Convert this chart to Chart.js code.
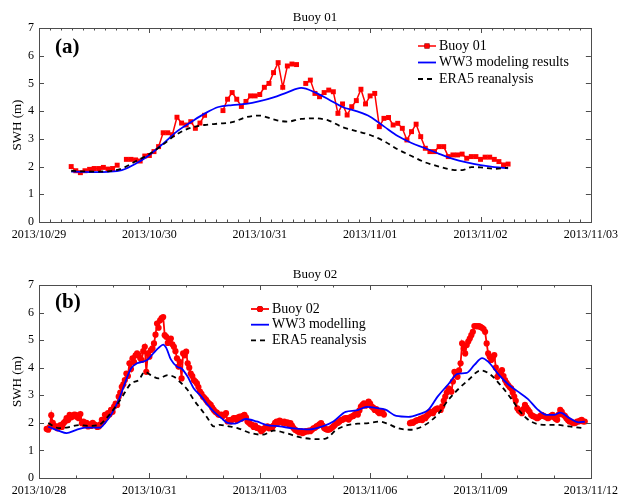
<!DOCTYPE html>
<html>
<head>
<meta charset="utf-8">
<script src="https://cdn.jsdelivr.net/npm/chart.js@4.4.0/dist/chart.umd.min.js"></script>
<style>
  body { margin: 0; background: #fff; }
  canvas { display: block; }
</style>
</head>
<body>
<canvas id="chartA" width="624" height="248"></canvas>
<canvas id="chartB" width="624" height="249"></canvas>
<script>
// ---- Panel (a): hours since 2013/10/29 00:00 ----
const buoy01Start = 7; // first hourly sample, null = missing
const buoy01Swh = [2.0, 1.85, 1.78, 1.85, 1.9, 1.93, 1.93, 1.97, 1.91, 1.93, 2.05, null,
  2.26, 2.26, 2.24, 2.2, 2.38, 2.4, 2.54, 2.72, 3.22, 3.22, 3.15, 3.78, 3.57, 3.5, 3.62,
  3.38, 3.57, 3.85, null, null, null, 4.02, 4.43, 4.67, 4.43, 4.17, 4.35, 4.55, 4.55, 4.6,
  4.86, 5.0, 5.39, 5.75, 4.86, 5.63, 5.7, 5.68, null, 5.0, 5.12, 4.64, 4.52, 4.67, 4.76,
  4.7, 3.92, 4.26, 3.86, 4.16, 4.38, 4.79, 4.26, 4.55, 4.64, 3.44, 3.74, 3.77, 3.5, 3.56,
  3.38, 2.96, 3.26, 3.53, 3.08, 2.66, 2.54, 2.54, 2.72, 2.72, 2.36, 2.42, 2.42, 2.45, 2.3,
  2.36, 2.36, 2.26, 2.34, 2.34, 2.26, 2.18, 2.06, 2.09];
const ww3aHours = [7, 9, 12, 15, 18, 21, 24, 27, 30, 33, 36, 39, 42, 45, 48, 51, 54, 57,
  60, 63, 66, 69, 72, 75, 78, 81, 84, 87, 90, 93, 96, 99, 102];
const ww3aSwh = [1.82, 1.81, 1.8, 1.81, 1.87, 2.1, 2.42, 2.83, 3.27, 3.6, 3.91, 4.15, 4.22,
  4.26, 4.36, 4.5, 4.68, 4.84, 4.68, 4.42, 4.15, 4.0, 3.8, 3.45, 3.1, 2.85, 2.66, 2.46,
  2.28, 2.15, 2.05, 1.98, 1.94];
const era5aHours = [7, 9, 12, 15, 18, 21, 24, 27, 30, 33, 36, 39, 42, 45, 48, 51, 54, 57,
  60, 63, 66, 69, 72, 75, 78, 81, 84, 87, 90, 92, 94, 96, 99, 102];
const era5aSwh = [1.85, 1.83, 1.82, 1.83, 1.93, 2.19, 2.45, 2.8, 3.17, 3.4, 3.5, 3.55, 3.6,
  3.78, 3.84, 3.7, 3.62, 3.72, 3.74, 3.66, 3.42, 3.28, 3.14, 2.92, 2.62, 2.38, 2.15, 2.0,
  1.88, 1.87, 1.98, 1.97, 1.92, 1.96];

// ---- Panel (b): hours since 2013/10/28 00:00 ----
const buoy02Start = 5;
const buoy02Swh = [1.78, 1.75, 1.85, 2.28, 2.0, 1.9, 1.85, 1.8, 1.88, 1.92, 1.85, 1.99, 2.05,
  2.17, 2.1, 2.29, 2.2, 2.23, 2.3, 2.29, 2.2, 2.17, 2.32, 1.99, 2.05, 1.92, 2.0, 1.87, 1.95,
  1.89, 2.0, 1.95, 1.92, 1.85, 1.87, 1.95, 2.11, 2.05, 2.29, 2.2, 2.35, 2.3, 2.47, 2.4, 2.59,
  2.7, 2.65, 2.95, 3.1, 3.31, 3.4, 3.55, 3.79, 3.7, 4.16, 3.95, 4.34, 4.2, 4.45, 4.52, 4.46,
  4.35, 4.28, 4.6, 4.76, 3.85, 4.52, 4.4, 4.64, 4.7, 4.88, 5.2, 5.6, 5.45, 5.72, 5.8, 5.84,
  5.18, 5.12, 4.9, 4.94, 5.06, 4.85, 4.76, 4.6, 4.34, 4.04, 4.2, 3.61, 4.52, 4.45, 4.58,
  4.16, 4.0, 3.79, 3.7, 3.55, 3.5, 3.43, 3.3, 3.13, 3.05, 2.95, 2.9, 2.83, 2.75, 2.7, 2.65,
  2.55, 2.47, 2.4, 2.37, 2.3, 2.29, 2.3, 2.25, 2.29, 2.35, 2.05, 2.1, 2.05, 2.12, 2.17,
  2.17, 2.1, 2.2, 2.23, 2.15, 2.25, 2.29, 2.2, 2.05, 2.0, 1.95, 1.93, 1.85, 1.9, 1.82, 1.81,
  1.78, 1.7, 1.75, 1.8, 1.85, 1.87, 1.8, 1.85, 1.81, 1.9, 2.0, 2.05, 2.0, 2.08, 2.05, 2.0,
  2.05, 1.99, 2.02, 1.95, 1.99, 1.9, 1.81, 1.75, 1.72, 1.69, 1.65, 1.7, 1.63, 1.66, 1.7,
  1.69, 1.72, 1.7, 1.75, 1.8, 1.82, 1.87, 1.9, 1.95, 1.99, 1.9, 1.81, 1.78, 1.75, 1.75,
  1.78, 1.82, 1.87, 1.92, 1.99, 2.0, 2.05, 2.1, 2.11, 2.15, 2.17, 2.17, 2.12, 2.2, 2.23,
  2.25, 2.3, 2.35, 2.3, 2.45, 2.59, 2.65, 2.71, 2.62, 2.7, 2.77, 2.7, 2.59, 2.55, 2.47, 2.5,
  2.4, 2.35, 2.38, 2.41, 2.3,
  null, null, null, null, null, null, null, null, null, null, null, null, null, null, null, null,
  1.99, 2.02, 2.0, 2.05, 2.08, 2.1, 2.11, 2.15, 2.1, 2.2, 2.17, 2.25, 2.3, 2.41, 2.38, 2.35,
  2.45, 2.5, 2.53, 2.5, 2.47, 2.6, 2.8, 2.95, 3.1, 3.25, 3.2, 3.13, 3.5, 3.85, 3.75, 3.67,
  3.9, 4.16, 4.88, 4.7, 4.52, 4.82, 4.95, 5.06, 5.18, 5.3, 5.51, 5.51, 5.5, 5.51, 5.48,
  5.45, 5.4, 5.3, 4.88, 4.52, 4.4, 4.28, 4.35, 4.46, 4.0, 3.67, 3.8, 3.85, 3.91, 3.7, 3.55,
  3.45, 3.37, 3.3, 3.25, 3.1, 2.95, 2.8, 2.53, 2.45, 2.4, 2.35, 2.5, 2.65, 2.55, 2.47, 2.4,
  2.29, 2.25, 2.23, 2.2, 2.17, 2.2, 2.25, 2.29, 2.25, 2.23, 2.2, 2.17, 2.2, 2.25, 2.29, 2.2,
  2.15, 2.11, 2.3, 2.47, 2.4, 2.29, 2.25, 2.17, 2.1, 2.05, 2.05, 2.0, 1.99, 2.0, 2.05, 2.05,
  2.08, 2.11, 2.05, 2.05];
const ww3bHours = [6, 13, 18, 24, 30, 40, 43, 47, 52, 56, 60, 64, 68, 71, 75, 78, 81, 83, 86,
  90, 93, 97, 101, 106, 110, 114, 119, 123, 128, 135, 142, 148, 157, 166, 176, 185, 192, 200,
  207, 214, 220, 226, 233, 241, 248, 254, 260, 267, 273, 279, 284, 289, 293, 300, 306, 312,
  319, 325, 331, 336, 340, 346, 352, 356];
const ww3bSwh = [1.86, 1.71, 1.63, 1.74, 1.83, 1.83, 1.99, 2.29, 2.83, 3.43, 3.97, 4.16, 4.22,
  4.3, 4.55, 4.72, 4.84, 4.72, 4.3, 4.04, 3.97, 3.67, 3.25, 2.95, 2.65, 2.41, 2.17, 2.0, 1.97,
  2.14, 2.05, 1.93, 1.87, 1.8, 1.76, 1.87, 2.05, 2.4, 2.45, 2.58, 2.54, 2.48, 2.25, 2.22,
  2.32, 2.47, 2.95, 3.4, 3.78, 3.81, 4.1, 4.35, 4.22, 3.74, 3.4, 3.15, 2.86, 2.5, 2.29, 2.29,
  2.37, 2.17, 2.02, 2.04];
const era5bHours = [6, 13, 19, 26, 32, 39, 43, 50, 55, 60, 65, 69, 73, 78, 84, 88, 93, 97,
  101, 106, 110, 114, 118, 123, 129, 138, 146, 153, 161, 170, 181, 187, 194, 202, 208, 215,
  222, 227, 234, 242, 251, 260, 267, 274, 280, 288, 294, 301, 308, 314, 320, 329, 337, 346,
  355];
const era5bSwh = [1.99, 1.81, 1.84, 1.92, 1.89, 1.92, 2.11, 2.59, 3.01, 3.43, 3.55, 3.85,
  3.73, 3.61, 3.73, 3.67, 3.43, 3.19, 2.83, 2.47, 2.17, 1.87, 1.93, 1.88, 1.82, 1.63, 1.57,
  1.72, 1.63, 1.48, 1.41, 1.43, 1.75, 1.93, 1.97, 1.99, 2.05, 1.98, 1.81, 1.75, 1.9, 2.3,
  2.83, 3.25, 3.55, 3.9, 3.77, 3.37, 2.88, 2.4, 2.08, 1.93, 1.93, 1.87, 1.81];

const SERIF = '"Liberation Serif", "Times New Roman", serif';

function hourly(start, values) {
  return values.map((v, i) => ({ x: start + i, y: v }));
}
function paired(hours, values) {
  return hours.map((h, i) => ({ x: h, y: values[i] }));
}
function dateLabel(origin, h) {
  const d = new Date(origin + h * 3600000);
  return d.getUTCFullYear() + '/' + String(d.getUTCMonth() + 1).padStart(2, '0') + '/' +
    String(d.getUTCDate()).padStart(2, '0');
}

// box, inward ticks, panel tag and legend, MATLAB style
function framePlugin(cfg) {
  return {
    id: 'frame',
    afterDraw(chart) {
      const ctx = chart.ctx, a = chart.chartArea;
      const xs = chart.scales.x, ys = chart.scales.y;
      ctx.save();
      ctx.strokeStyle = '#4d4d4d';
      ctx.lineWidth = 1;
      ctx.strokeRect(Math.round(a.left) + 0.5, Math.round(a.top) + 0.5,
        Math.round(a.right - a.left), Math.round(a.bottom - a.top));
      ctx.beginPath();
      const n = Math.round((xs.max - xs.min) / cfg.minorStep);
      for (let k = 0; k <= n; k++) {
        const v = xs.min + k * cfg.minorStep;
        const px = Math.round(xs.getPixelForValue(v)) + 0.5;
        const major = Math.abs(v / cfg.majorStep - Math.round(v / cfg.majorStep)) < 1e-6;
        const len = major ? 5 : 2.5;
        ctx.moveTo(px, a.bottom); ctx.lineTo(px, a.bottom - len);
        ctx.moveTo(px, a.top); ctx.lineTo(px, a.top + len);
      }
      for (let v = ys.min; v <= ys.max; v++) {
        const py = Math.round(ys.getPixelForValue(v)) + 0.5;
        ctx.moveTo(a.left, py); ctx.lineTo(a.left + 5, py);
        ctx.moveTo(a.right, py); ctx.lineTo(a.right - 5, py);
      }
      ctx.stroke();

      ctx.fillStyle = '#000';
      ctx.textBaseline = 'middle';
      ctx.font = 'bold 21px ' + SERIF;
      ctx.fillText(cfg.tag, 55, cfg.tagY);

      ctx.font = '14px ' + SERIF;
      chart.data.datasets.forEach((ds, i) => {
        const y = cfg.legendY + i * cfg.legendGap;
        const x0 = cfg.legendX, x1 = cfg.legendX + 18;
        ctx.strokeStyle = ds.borderColor;
        ctx.lineWidth = ds.borderWidth;
        ctx.setLineDash(ds.borderDash || []);
        ctx.beginPath(); ctx.moveTo(x0, y); ctx.lineTo(x1, y); ctx.stroke();
        ctx.setLineDash([]);
        if (ds.pointRadius > 0) {
          Chart.helpers.drawPoint(ctx, { pointStyle: ds.pointStyle, radius: ds.pointRadius,
            borderWidth: 0 }, (x0 + x1) / 2, y);
          ctx.fillStyle = ds.pointBackgroundColor;
          ctx.fill();
        }
        ctx.fillStyle = '#000';
        ctx.fillText(ds.label, x1 + 3, y);
      });
      ctx.restore();
    }
  };
}

function makeChart(id, cfg) {
  const datasets = [
    { label: cfg.names[0], data: cfg.buoy, borderColor: '#ff0000', borderWidth: cfg.buoyWidth,
      pointStyle: cfg.marker, pointRadius: cfg.markerSize, pointBackgroundColor: '#ff0000',
      pointBorderWidth: 0, spanGaps: false, order: 3 },
    { label: cfg.names[1], data: cfg.ww3, borderColor: '#0000ff', borderWidth: 1.8,
      pointRadius: 0, cubicInterpolationMode: 'monotone', order: 2 },
    { label: cfg.names[2], data: cfg.era5, borderColor: '#000000', borderWidth: 1.8,
      borderDash: [5, 4], pointRadius: 0, cubicInterpolationMode: 'monotone', order: 1 }
  ];
  return new Chart(document.getElementById(id), {
    type: 'line',
    data: { datasets },
    options: {
      responsive: false,
      animation: false,
      devicePixelRatio: 1,
      layout: { padding: { left: 0, right: 29, top: 0, bottom: 0 } },
      plugins: {
        legend: { display: false },
        tooltip: { enabled: false },
        title: {
          display: true, text: cfg.title, color: '#000', fullSize: false,
          font: { family: SERIF, size: 13, weight: 'normal' },
          padding: { top: cfg.titleTop, bottom: 2.4 }
        }
      },
      scales: {
        x: {
          type: 'linear', min: 0, max: cfg.xMax,
          afterFit: s => { s.height = cfg.xHeight; },
          ticks: {
            stepSize: cfg.majorStep, autoSkip: false, maxRotation: 0, padding: 6,
            color: '#000', font: { family: SERIF, size: 12 },
            callback: v => dateLabel(cfg.origin, v)
          },
          grid: { display: false, drawTicks: false },
          border: { display: false }
        },
        y: {
          min: 0, max: 7,
          afterFit: s => { s.width = 39; },
          ticks: { stepSize: 1, padding: 5, color: '#000', font: { family: SERIF, size: 12 } },
          title: {
            display: true, text: 'SWH (m)', color: '#000',
            font: { family: SERIF, size: 13 }, padding: { top: 10, bottom: 0 }
          },
          grid: { display: false, drawTicks: false },
          border: { display: false }
        }
      }
    },
    plugins: [framePlugin(cfg)]
  });
}

makeChart('chartA', {
  title: 'Buoy 01', titleTop: 10, xHeight: 26,
  origin: Date.UTC(2013, 9, 29), xMax: 120, majorStep: 24, minorStep: 2.4,
  names: ['Buoy 01', 'WW3 modeling results', 'ERA5 reanalysis'],
  buoy: hourly(buoy01Start, buoy01Swh),
  ww3: paired(ww3aHours, ww3aSwh),
  era5: paired(era5aHours, era5aSwh),
  marker: 'rect', markerSize: 3.5, buoyWidth: 1.5,
  tag: '(a)', tagY: 48,
  legendX: 418, legendY: 46, legendGap: 16.5
});

makeChart('chartB', {
  title: 'Buoy 02', titleTop: 19, xHeight: 19,
  origin: Date.UTC(2013, 9, 28), xMax: 360, majorStep: 72, minorStep: 24,
  names: ['Buoy 02', 'WW3 modelling', 'ERA5 reanalysis'],
  buoy: hourly(buoy02Start, buoy02Swh),
  ww3: paired(ww3bHours, ww3bSwh),
  era5: paired(era5bHours, era5bSwh),
  marker: 'circle', markerSize: 3.1, buoyWidth: 1.8,
  tag: '(b)', tagY: 55,
  legendX: 251, legendY: 61, legendGap: 15.7
});
</script>
</body>
</html>
